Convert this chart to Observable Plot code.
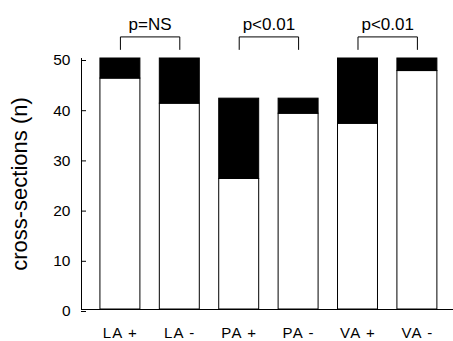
<!DOCTYPE html>
<html><head><meta charset="utf-8">
<script src="https://cdn.jsdelivr.net/npm/d3@7"></script>
<script src="https://cdn.jsdelivr.net/npm/@observablehq/plot@0.6"></script>
<style>body{margin:0;background:#fff} svg{display:block}</style>
</head><body><div id="chart"></div>
<script>
// ---- data ----
const categories = ["LA +", "LA -", "PA +", "PA -", "VA +", "VA -"];
const whiteValues = [46, 41, 26, 39, 37, 47.5];   // lower (open) segment
const totalValues = [50, 50, 42, 42, 50, 50];     // top of the filled segment
const yTicks = [0, 10, 20, 30, 40, 50];
const pairLeft = ["LA +", "PA +", "VA +"];
const pairRight = ["LA -", "PA -", "VA -"];
const pLabels = ["p=NS", "p<0.01", "p<0.01"];
const yLabel = "cross-sections (n)";

// ---- layout constants ----
const W = 453, H = 341;
const mLeft = 81, mRight = 0, mTop = 58, mBottom = 32;
const padIn = 0.327, padOut = 0.295;
const xStep = (W - mLeft - mRight) / (categories.length - padIn + 2 * padOut);
const bracketLow = 51.8, bracketHigh = 54.3, pY = 56.8;

const rows = categories.map((c, i) => ({cat: c, white: whiteValues[i], total: totalValues[i]}));
const brackets = [];
pairLeft.forEach((l, i) => {
  brackets.push({g: i, x: l, y: bracketLow});
  brackets.push({g: i, x: l, y: bracketHigh});
  brackets.push({g: i, x: pairRight[i], y: bracketHigh});
  brackets.push({g: i, x: pairRight[i], y: bracketLow});
});
const pRows = pairLeft.map((l, i) => ({x: l, text: pLabels[i]}));

const chart = Plot.plot({
  width: W, height: H,
  marginLeft: mLeft, marginRight: mRight, marginTop: mTop, marginBottom: mBottom,
  style: {fontFamily: "'Liberation Sans', Arial, Helvetica, sans-serif", fontSize: "15px", color: "#000", background: "#fff"},
  x: {type: "band", domain: categories, paddingInner: padIn, paddingOuter: padOut, align: 0.54, round: false, label: null},
  y: {domain: [0, 50], label: null},
  marks: [
    Plot.barY(rows, {x: "cat", y1: 0, y2: "white", fill: "#fff", stroke: "#000", strokeWidth: 1}),
    Plot.barY(rows, {x: "cat", y1: "white", y2: "total", fill: "#000", stroke: "#000", strokeWidth: 1}),
    Plot.ruleY([0], {stroke: "#000", strokeWidth: 1.2}),
    Plot.frame({anchor: "left", stroke: "#000", strokeWidth: 1}),
    Plot.axisY({ticks: yTicks, tickSize: -5, tickPadding: 16, fontSize: 15.5, dy: 2, label: null}),
    Plot.axisX({tickSize: 0, tickPadding: 18, fontSize: 15, label: null}),
    Plot.line(brackets, {x: "x", y: "y", z: "g", stroke: "#000", strokeWidth: 1}),
    Plot.text(pRows, {x: "x", y: pY, text: "text", dx: xStep / 2, fontSize: 17, fill: "#000", ariaLabel: "pvalue"}),
    Plot.text([yLabel], {frameAnchor: "left", textAnchor: "middle", rotate: -90, dx: -62, text: d => d, fontSize: 22, fill: "#000", ariaLabel: "ytitle"})
  ]
});
document.getElementById("chart").appendChild(chart);

const setSpacing = (label, px) => chart.querySelectorAll(`g[aria-label="${label}"] text`).forEach(t => t.setAttribute("letter-spacing", px));
setSpacing("pvalue", "1.5px");
setSpacing("x-axis tick label", "1.2px");
setSpacing("ytitle", "0.6px");
</script>
</body></html>
